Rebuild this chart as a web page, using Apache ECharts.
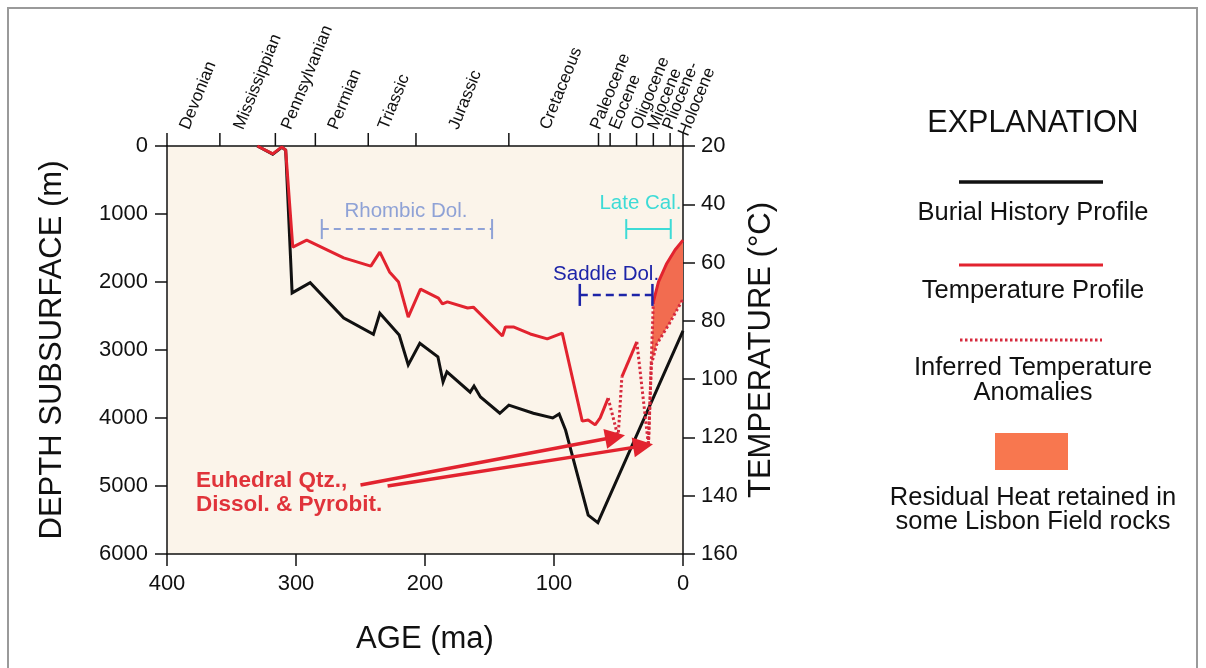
<!DOCTYPE html>
<html><head><meta charset="utf-8">
<script src="https://cdn.jsdelivr.net/npm/echarts@6/dist/echarts.min.js"></script>
<style>html,body{margin:0;padding:0;background:#fff}#c{width:1206px;height:668px}</style>
</head><body><div id="c"></div>
<script>
// ---------------- data ----------------
const burialAge   = [330, 318, 311, 308, 303, 289, 263, 240, 235, 220, 213, 204, 190, 186, 183, 165, 162, 157, 142, 135, 116, 101, 96, 91, 73.5, 66, 0];
const burialDepth = [0, 120, 20, 60, 2160, 2010, 2530, 2770, 2460, 2780, 3220, 2900, 3100, 3470, 3320, 3620, 3530, 3690, 3930, 3810, 3930, 4000, 3940, 4180, 5430, 5540, 2720];

const tempAgeA = [330, 318, 311, 308, 302.5, 291.7, 263, 242, 235, 227.5, 220.5, 213, 203.5, 189.6, 186.5, 182.6, 167, 162.5, 140, 137.7, 131.5, 118.4, 105.2, 93.6, 78.1, 73.5, 68.1, 64.2, 58];
const tempA    = [20, 22.7, 20.3, 21.4, 54.7, 52.3, 58.4, 61.2, 56.4, 63.2, 66.7, 78.7, 69.1, 72.2, 74.2, 73.5, 75.6, 75.3, 85.2, 82.1, 82.1, 84.5, 86.2, 84.2, 114.4, 114, 115.7, 113.3, 106.5];
const tempAgeB = [47.4, 35.8];
const tempB    = [99.2, 87.2];
const tempAgeC = [23, 19, 12.6, 6.2, 0];
const tempC    = [73.5, 66.6, 60.3, 55.7, 52.3];

const anomAge1 = [58, 50.3, 47.4];
const anomTemp1 = [106.5, 119.9, 99.2];
const anomAge2 = [35.8, 26.8, 23];
const anomTemp2 = [87.2, 122.6, 73.5];
const anomAge3 = [26.8, 24.5, 20.3, 10, 0];
const anomTemp3 = [122.6, 95, 88, 80.5, 72.5];

const heatAge  = [23, 19, 12.6, 6.2, 0, 0, 10, 20.3, 24.5];
const heatTemp = [73.5, 66.6, 60.3, 55.7, 52.3, 72.5, 80.5, 88, 95];

const arrowFromAge   = [250, 229];
const arrowFromDepth = [4985, 5000];
const arrowToAge     = [52.6, 30.9];
const arrowToDepth   = [4280, 4410];

const rangeNames = ['Rhombic Dol.', 'Late Cal.', 'Saddle Dol.'];
const rangeFrom  = [280, 44, 80];
const rangeTo    = [148, 9.5, 23.7];
const rangeTemp  = [48.5, 48.5, 71.1];

const periodNames  = ['Devonian','Mississippian','Pennsylvanian','Permian','Triassic','Jurassic','Cretaceous','Paleocene','Eocene','Oligocene','Miocene','Pliocene-\nHolocene'];
const periodBounds = [400, 359, 316, 285, 244, 207, 135, 65.5, 56.5, 36, 23, 10, 0];

const noteText  = 'Euhedral Qtz.,\nDissol. & Pyrobit.';
const noteAge   = [377.6];
const noteDepth = [5100];

// ---------------- styles ----------------
const FONT = "'Liberation Sans', Arial, Helvetica, sans-serif";
const INK = '#111111';
const RED = '#e2232f';
const DOT = '#d62a3d';
const HEAT = '#f26c50';
const rangeStyle = [
  {color:'#8fa2d6', width:2, dash:[7,5], cap:10, dx:-1, dy:-18},
  {color:'#3ddbd6', width:2, dash:null, cap:10, dx:-8, dy:-26},
  {color:'#1d24a8', width:2.5, dash:[8,5], cap:11, dx:-10, dy:-21}
];
const PERIOD_ROT = 68 * Math.PI / 180;
const PERIOD_LH = 17;

const zip = (a, b) => a.map((v, i) => [v, b[i]]);
const periodMids = periodNames.map((n, i) => [(periodBounds[i] + periodBounds[i + 1]) / 2]);

const chart = echarts.init(document.getElementById('c'), null, {renderer: 'canvas'});

const axisBase = {
  axisLine: {show: true, onZero: false, lineStyle: {color: INK, width: 1.5}},
  axisTick: {show: true, inside: false, length: 12, lineStyle: {color: INK, width: 1.5}},
  axisLabel: {fontSize: 22, color: INK, fontFamily: FONT, formatter: v => String(v)},
  splitLine: {show: false},
  nameTextStyle: {fontSize: 31, color: INK, fontFamily: FONT}
};

const option = {
  animation: false,
  backgroundColor: '#ffffff',
  textStyle: {fontFamily: FONT},
  grid: {left: 167, top: 146, width: 516, height: 408, show: true, backgroundColor: '#fbf4ea', borderWidth: 0},
  xAxis: [
    Object.assign({}, axisBase, {type: 'value', min: 0, max: 400, interval: 100, inverse: true, position: 'bottom',
      axisLabel: Object.assign({}, axisBase.axisLabel, {margin: 19}),
      name: 'AGE (ma)', nameLocation: 'middle', nameGap: 70}),
    {type: 'value', min: 0, max: 400, inverse: true, position: 'top',
      axisLine: {show: true, onZero: false, lineStyle: {color: INK, width: 1.5}}, axisTick: {show: false}, axisLabel: {show: false}, splitLine: {show: false}}
  ],
  yAxis: [
    Object.assign({}, axisBase, {type: 'value', min: 0, max: 6000, interval: 1000, inverse: true, position: 'left',
      axisLabel: Object.assign({}, axisBase.axisLabel, {margin: 19}),
      name: 'DEPTH SUBSURFACE (m)', nameLocation: 'middle', nameGap: 99, nameRotate: 90}),
    Object.assign({}, axisBase, {type: 'value', min: 20, max: 160, interval: 20, inverse: true, position: 'right',
      axisLabel: Object.assign({}, axisBase.axisLabel, {margin: 18}),
      name: 'TEMPERATURE (°C)', nameLocation: 'middle', nameGap: 63, nameRotate: 90})
  ],
  series: [
    { // residual heat fill
      type: 'custom', xAxisIndex: 0, yAxisIndex: 1, clip: false, z: 2,
      data: [[0]],
      renderItem: (params, api) => ({
        type: 'polygon',
        shape: {points: heatAge.map((a, i) => api.coord([a, heatTemp[i]]))},
        style: {fill: HEAT}
      })
    },
    {type: 'line', name: 'Burial History Profile', xAxisIndex: 0, yAxisIndex: 0, data: zip(burialAge, burialDepth),
      showSymbol: false, symbol: 'none', lineStyle: {color: INK, width: 3, join: 'miter'}, z: 3},
    {type: 'line', name: 'Temperature Profile', xAxisIndex: 0, yAxisIndex: 1, data: zip(tempAgeA, tempA),
      symbol: 'none', lineStyle: {color: RED, width: 3}, z: 4},
    {type: 'line', xAxisIndex: 0, yAxisIndex: 1, data: zip(tempAgeB, tempB), symbol: 'none', lineStyle: {color: RED, width: 3}, z: 4},
    {type: 'line', xAxisIndex: 0, yAxisIndex: 1, data: zip(tempAgeC, tempC), symbol: 'none', lineStyle: {color: RED, width: 3}, z: 4},
    {type: 'line', name: 'Inferred Temperature Anomalies', xAxisIndex: 0, yAxisIndex: 1, data: zip(anomAge1, anomTemp1), symbol: 'none', lineStyle: {color: DOT, width: 3, type: [2.5, 2.5]}, z: 4},
    {type: 'line', xAxisIndex: 0, yAxisIndex: 1, data: zip(anomAge2, anomTemp2), symbol: 'none', lineStyle: {color: DOT, width: 3, type: [2.5, 2.5]}, z: 4},
    {type: 'line', xAxisIndex: 0, yAxisIndex: 1, data: zip(anomAge3, anomTemp3), symbol: 'none', lineStyle: {color: DOT, width: 3, type: [2.5, 2.5]}, z: 4},
    { // arrows
      type: 'lines', coordinateSystem: 'cartesian2d', xAxisIndex: 0, yAxisIndex: 0, z: 5,
      symbol: ['none', 'triangle'], symbolSize: 20,
      itemStyle: {color: RED},
      lineStyle: {color: RED, width: 3.5, opacity: 1, curveness: 0},
      data: arrowFromAge.map((a, i) => ({coords: [[a, arrowFromDepth[i]], [arrowToAge[i], arrowToDepth[i]]]}))
    },
    { // mineral range bars
      type: 'custom', xAxisIndex: 0, yAxisIndex: 1, clip: false, z: 5,
      data: rangeNames.map((n, i) => [rangeFrom[i], rangeTo[i], rangeTemp[i]]),
      renderItem: (params, api) => {
        const i = params.dataIndex, st = rangeStyle[i];
        const a = api.coord([api.value(0), api.value(2)]);
        const b = api.coord([api.value(1), api.value(2)]);
        const h = st.cap;
        return {type: 'group', children: [
          {type: 'line', shape: {x1: a[0], y1: a[1], x2: b[0], y2: b[1]}, style: {stroke: st.color, lineWidth: st.width, lineDash: st.dash}},
          {type: 'line', shape: {x1: a[0], y1: a[1] - h, x2: a[0], y2: a[1] + h}, style: {stroke: st.color, lineWidth: st.width}},
          {type: 'line', shape: {x1: b[0], y1: b[1] - h, x2: b[0], y2: b[1] + h}, style: {stroke: st.color, lineWidth: st.width}},
          {type: 'text', x: (a[0] + b[0]) / 2 + st.dx, y: a[1] + st.dy,
            style: {text: rangeNames[i], fill: st.color, fontSize: 20.5, fontFamily: FONT, align: 'center', verticalAlign: 'middle'}}
        ]};
      }
    },
    { // annotation text
      type: 'custom', xAxisIndex: 0, yAxisIndex: 0, clip: false, z: 5,
      data: noteAge.map((a, i) => [a, noteDepth[i]]),
      renderItem: (params, api) => {
        const p = api.coord([api.value(0), api.value(1)]);
        return {type: 'text', x: p[0], y: p[1], style: {text: noteText, fill: '#e0333a', fontSize: 22.5, fontWeight: 'bold',
          fontFamily: FONT, align: 'left', verticalAlign: 'middle', lineHeight: 24}};
      }
    },
    { // geologic period ticks on top axis
      type: 'custom', xAxisIndex: 0, yAxisIndex: 0, clip: false, z: 6,
      data: periodBounds.map(b => [b]),
      renderItem: (params, api) => {
        const p = api.coord([api.value(0), 0]);
        return {type: 'line', shape: {x1: p[0], y1: p[1], x2: p[0], y2: p[1] - 13}, style: {stroke: INK, lineWidth: 1.5}};
      }
    },
    { // geologic period labels (first line sits on the axis, extra lines stack to the right)
      type: 'custom', xAxisIndex: 0, yAxisIndex: 0, clip: false, z: 6,
      data: periodMids,
      renderItem: (params, api) => {
        const p = api.coord([api.value(0), 0]);
        const ax = p[0] - 1 - PERIOD_LH * Math.sin(PERIOD_ROT);
        const ay = p[1] - 14 - PERIOD_LH * Math.cos(PERIOD_ROT);
        return {type: 'text', x: ax, y: ay, rotation: PERIOD_ROT,
          style: {text: periodNames[params.dataIndex], fill: INK, fontSize: 17, fontFamily: FONT,
            align: 'left', verticalAlign: 'top', lineHeight: PERIOD_LH}};
      }
    }
  ],
  graphic: [
    {type: 'rect', shape: {x: 8, y: 8, width: 1189, height: 700}, style: {fill: 'none', stroke: '#9a9a9a', lineWidth: 2}, silent: true},
    {type: 'text', x: 1033, y: 124, style: {text: 'EXPLANATION', fontSize: 30.5, fill: INK, fontFamily: FONT, align: 'center', verticalAlign: 'middle'}},
    {type: 'line', shape: {x1: 959, y1: 182, x2: 1103, y2: 182}, style: {stroke: INK, lineWidth: 3.5}},
    {type: 'text', x: 1033, y: 213, style: {text: 'Burial History Profile', fontSize: 25.5, fill: INK, fontFamily: FONT, align: 'center', verticalAlign: 'middle'}},
    {type: 'line', shape: {x1: 959, y1: 265, x2: 1103, y2: 265}, style: {stroke: RED, lineWidth: 3}},
    {type: 'text', x: 1033, y: 291, style: {text: 'Temperature Profile', fontSize: 25.5, fill: INK, fontFamily: FONT, align: 'center', verticalAlign: 'middle'}},
    {type: 'line', shape: {x1: 960, y1: 340, x2: 1102, y2: 340}, style: {stroke: DOT, lineWidth: 3, lineDash: [2.5, 2.5]}},
    {type: 'text', x: 1033, y: 380, style: {text: 'Inferred Temperature\nAnomalies', fontSize: 25.5, lineHeight: 25, fill: INK, fontFamily: FONT, align: 'center', verticalAlign: 'middle'}},
    {type: 'rect', shape: {x: 995, y: 433, width: 73, height: 37}, style: {fill: '#f8774f'}},
    {type: 'text', x: 1033, y: 510, style: {text: 'Residual Heat retained in\nsome Lisbon Field rocks', fontSize: 25.5, lineHeight: 24, fill: INK, fontFamily: FONT, align: 'center', verticalAlign: 'middle'}}
  ]
};
chart.setOption(option);
</script>
</body></html>
